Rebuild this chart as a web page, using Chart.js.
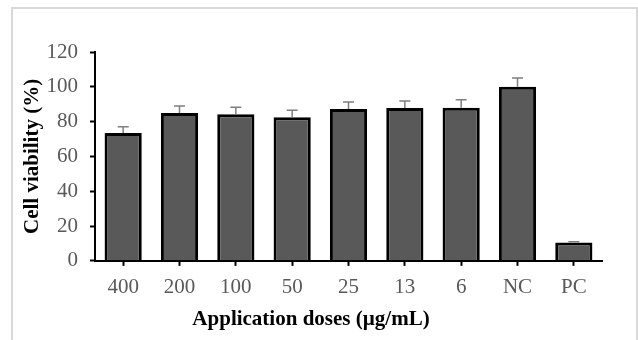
<!DOCTYPE html>
<html>
<head>
<meta charset="utf-8">
<script src="https://cdn.jsdelivr.net/npm/chart.js@4"></script>
<style>
  body { margin: 0; background: #fff; }
  #wrap { width: 638px; height: 340px; }
</style>
</head>
<body>
<div id="wrap"><canvas id="myChart"></canvas></div>
<script>
let doses = ["400", "200", "100", "50", "25", "13", "6", "NC", "PC"];
let viability = [73.5, 85, 84.3, 82.5, 87.2, 87.8, 88, 100, 10.5];
let errors = [3.5, 4, 4, 4, 4, 4, 4.5, 5, 0.5];
let yTicks = [0, 20, 40, 60, 80, 100, 120];

// light frame around the whole picture
const framePlugin = {
	id: "frame",
	beforeDraw(chart) {
		const c = chart.ctx;
		c.save();
		c.strokeStyle = "#d9d9d9";
		c.lineWidth = 2;
		c.strokeRect(12, 8, 625, 340);
		c.restore();
	}
};

// error bars (upper side only)
const errorBars = {
	id: "errorBars",
	afterDatasetsDraw(chart) {
		const c = chart.ctx;
		const meta = chart.getDatasetMeta(0);
		const y = chart.scales.y;
		c.save();
		c.strokeStyle = "#7f7f7f";
		c.lineWidth = 1.5;
		meta.data.forEach(function (bar, i) {
			const top = y.getPixelForValue(viability[i] + errors[i]);
			const base = y.getPixelForValue(viability[i]);
			c.beginPath();
			c.moveTo(bar.x, base);
			c.lineTo(bar.x, top);
			c.moveTo(bar.x - 5.5, top);
			c.lineTo(bar.x + 5.5, top);
			c.stroke();
		});
		c.restore();
	}
};

var ctx = document.getElementById("myChart");
var chart = new Chart(ctx, {
	type: "bar",
	data: {
		labels: doses,
		datasets: [
			{
				label: "Cell viability",
				data: viability,
				backgroundColor: "#595959",
				borderColor: "#000000",
				borderWidth: 3,
				categoryPercentage: 1,
				barPercentage: 0.66
			}
		]
	},
	options: {
		responsive: true,
		maintainAspectRatio: false,
		animation: false,
		layout: { padding: { left: 20, right: 36, top: 52, bottom: 8 } },
		plugins: {
			legend: { display: false },
			tooltip: { enabled: false },
			// x axis title is centred on the whole picture, not the plot
			title: {
				display: true,
				position: "bottom",
				text: "Application doses (µg/mL)",
				color: "#000000",
				padding: 0,
				font: { family: "Liberation Serif", size: 21, weight: "bold", lineHeight: 1.15 }
			}
		},
		scales: {
			x: {
				afterFit(scale) { scale.height = 47; },
				grid: {
					display: true,
					offset: false,
					drawOnChartArea: false,
					color: "#000000",
					tickLength: 5,
					tickWidth: 2
				},
				border: { color: "#000000", width: 2 },
				ticks: {
					color: "#595959",
					padding: 9,
					font: { family: "Liberation Serif", size: 21 }
				}
			},
			y: {
				min: 0,
				max: 120,
				afterFit(scale) { scale.width = 75; },
				afterBuildTicks(scale) {
					scale.ticks = yTicks.map(function (v) { return { value: v }; });
				},
				grid: {
					display: true,
					drawOnChartArea: false,
					color: "#000000",
					tickLength: 5,
					tickWidth: 2
				},
				border: { color: "#000000", width: 2 },
				ticks: {
					color: "#595959",
					padding: 12,
					font: { family: "Liberation Serif", size: 21 }
				},
				title: {
					display: true,
					text: "Cell viability (%)",
					color: "#000000",
					padding: { top: 0, bottom: 0 },
					font: { family: "Liberation Serif", size: 21, weight: "bold" }
				}
			}
		}
	},
	plugins: [framePlugin, errorBars]
});
</script>
</body>
</html>
